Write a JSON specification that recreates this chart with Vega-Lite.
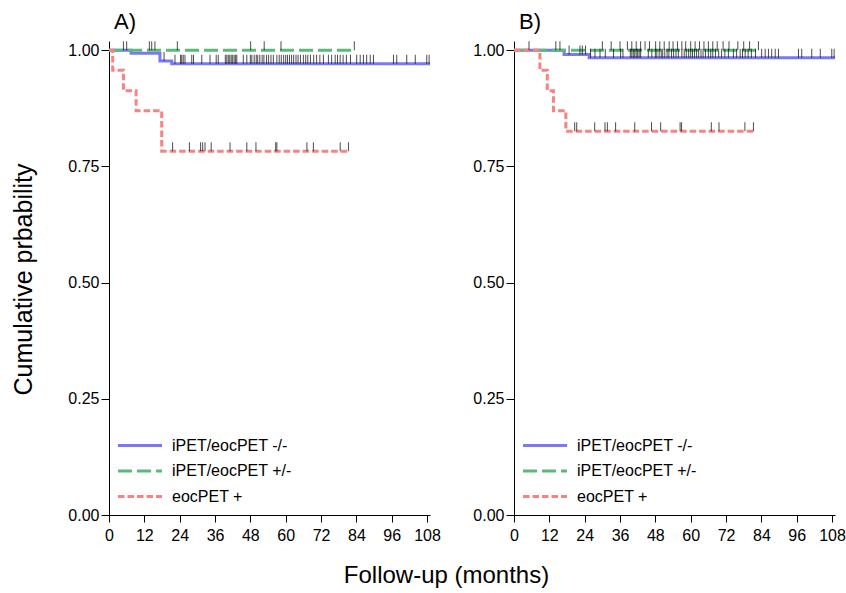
{
 "$schema": "https://vega.github.io/schema/vega-lite/v6.json",
 "padding": {"left": 11, "top": 11, "right": 0, "bottom": 5},
 "background": "white",
 "config": {
  "font": "Liberation Sans",
  "view": {"stroke": null},
  "axis": {"grid": false, "domainColor": "black", "tickColor": "black", "labelColor": "black", "labelFontSize": 16, "titleFontSize": 24, "titleFontWeight": "normal", "titleColor": "black", "domainWidth": 1, "tickWidth": 1, "labelOverlap": false},
  "axisX": {"tickSize": 7, "labelPadding": 5},
  "axisY": {"tickSize": 8, "labelPadding": 2},
  "title": {"fontSize": 22, "fontWeight": "normal", "anchor": "start", "color": "black", "frame": "group"},
  "legend": {"orient": "none", "legendX": 23, "legendY": 396.5, "title": null, "labelFontSize": 16, "labelColor": "black", "symbolType": "M-4,0H4", "symbolSize": 121, "symbolStrokeWidth": 3, "labelOffset": 24, "rowPadding": 9.5}
 },
 "datasets": {
  "km": [
   {"p": "A", "g": "iPET/eocPET -/-", "t": 0, "s": 1},
   {"p": "A", "g": "iPET/eocPET -/-", "t": 7.5, "s": 0.9935},
   {"p": "A", "g": "iPET/eocPET -/-", "t": 17.3, "s": 0.977},
   {"p": "A", "g": "iPET/eocPET -/-", "t": 21.3, "s": 0.971},
   {"p": "A", "g": "iPET/eocPET -/-", "t": 109, "s": 0.971},
   {"p": "A", "g": "iPET/eocPET +/-", "t": 0, "s": 1},
   {"p": "A", "g": "iPET/eocPET +/-", "t": 83.3, "s": 1},
   {"p": "A", "g": "eocPET +", "t": 0, "s": 1},
   {"p": "A", "g": "eocPET +", "t": 1.25, "s": 0.957},
   {"p": "A", "g": "eocPET +", "t": 4.9, "s": 0.913},
   {"p": "A", "g": "eocPET +", "t": 9.2, "s": 0.870},
   {"p": "A", "g": "eocPET +", "t": 17.9, "s": 0.783},
   {"p": "A", "g": "eocPET +", "t": 81.3, "s": 0.783},
   {"p": "B", "g": "iPET/eocPET -/-", "t": 0, "s": 1},
   {"p": "B", "g": "iPET/eocPET -/-", "t": 17, "s": 0.991},
   {"p": "B", "g": "iPET/eocPET -/-", "t": 25.5, "s": 0.984},
   {"p": "B", "g": "iPET/eocPET -/-", "t": 109, "s": 0.984},
   {"p": "B", "g": "iPET/eocPET +/-", "t": 0, "s": 1},
   {"p": "B", "g": "iPET/eocPET +/-", "t": 83, "s": 1},
   {"p": "B", "g": "eocPET +", "t": 0, "s": 1},
   {"p": "B", "g": "eocPET +", "t": 8.8, "s": 0.957},
   {"p": "B", "g": "eocPET +", "t": 11.3, "s": 0.913},
   {"p": "B", "g": "eocPET +", "t": 13.4, "s": 0.870},
   {"p": "B", "g": "eocPET +", "t": 17.6, "s": 0.826},
   {"p": "B", "g": "eocPET +", "t": 81.3, "s": 0.826}
  ],
  "cens": [
   {"p": "A", "t": 4.9, "s": 1}, {"p": "A", "t": 6, "s": 1}, {"p": "A", "t": 13.7, "s": 1}, {"p": "A", "t": 14.5, "s": 1}, {"p": "A", "t": 15.6, "s": 1}, {"p": "A", "t": 23.2, "s": 1}, {"p": "A", "t": 48.1, "s": 1}, {"p": "A", "t": 52.7, "s": 1}, {"p": "A", "t": 58.4, "s": 1}, {"p": "A", "t": 83.3, "s": 1},
   {"p": "A", "t": 18.7, "s": 0.977},
   {"p": "A", "t": 22.4, "s": 0.971}, {"p": "A", "t": 24.3, "s": 0.971}, {"p": "A", "t": 24.7, "s": 0.971}, {"p": "A", "t": 25.2, "s": 0.971}, {"p": "A", "t": 25.8, "s": 0.971}, {"p": "A", "t": 28.1, "s": 0.971}, {"p": "A", "t": 28.7, "s": 0.971}, {"p": "A", "t": 31.5, "s": 0.971}, {"p": "A", "t": 34.3, "s": 0.971}, {"p": "A", "t": 36.4, "s": 0.971}, {"p": "A", "t": 37.1, "s": 0.971}, {"p": "A", "t": 39.5, "s": 0.971}, {"p": "A", "t": 40, "s": 0.971}, {"p": "A", "t": 40.5, "s": 0.971}, {"p": "A", "t": 41, "s": 0.971}, {"p": "A", "t": 41.5, "s": 0.971}, {"p": "A", "t": 42, "s": 0.971}, {"p": "A", "t": 42.5, "s": 0.971}, {"p": "A", "t": 43, "s": 0.971}, {"p": "A", "t": 43.4, "s": 0.971}, {"p": "A", "t": 45.6, "s": 0.971}, {"p": "A", "t": 46.8, "s": 0.971}, {"p": "A", "t": 48, "s": 0.971}, {"p": "A", "t": 48.5, "s": 0.971}, {"p": "A", "t": 49.3, "s": 0.971}, {"p": "A", "t": 50, "s": 0.971}, {"p": "A", "t": 50.5, "s": 0.971}, {"p": "A", "t": 51.2, "s": 0.971}, {"p": "A", "t": 52, "s": 0.971}, {"p": "A", "t": 52.6, "s": 0.971}, {"p": "A", "t": 53.5, "s": 0.971}, {"p": "A", "t": 54.2, "s": 0.971}, {"p": "A", "t": 55, "s": 0.971}, {"p": "A", "t": 55.8, "s": 0.971}, {"p": "A", "t": 57, "s": 0.971}, {"p": "A", "t": 57.8, "s": 0.971}, {"p": "A", "t": 58.5, "s": 0.971}, {"p": "A", "t": 59.3, "s": 0.971}, {"p": "A", "t": 60, "s": 0.971}, {"p": "A", "t": 60.6, "s": 0.971}, {"p": "A", "t": 61.3, "s": 0.971}, {"p": "A", "t": 62, "s": 0.971}, {"p": "A", "t": 62.7, "s": 0.971}, {"p": "A", "t": 63.5, "s": 0.971}, {"p": "A", "t": 64.2, "s": 0.971}, {"p": "A", "t": 65, "s": 0.971}, {"p": "A", "t": 66, "s": 0.971}, {"p": "A", "t": 66.8, "s": 0.971}, {"p": "A", "t": 67.5, "s": 0.971}, {"p": "A", "t": 68.4, "s": 0.971}, {"p": "A", "t": 69.5, "s": 0.971}, {"p": "A", "t": 70.5, "s": 0.971}, {"p": "A", "t": 71.6, "s": 0.971}, {"p": "A", "t": 72.8, "s": 0.971}, {"p": "A", "t": 74.5, "s": 0.971}, {"p": "A", "t": 75.6, "s": 0.971}, {"p": "A", "t": 76.8, "s": 0.971}, {"p": "A", "t": 77.6, "s": 0.971}, {"p": "A", "t": 78.5, "s": 0.971}, {"p": "A", "t": 79.5, "s": 0.971}, {"p": "A", "t": 80.6, "s": 0.971}, {"p": "A", "t": 82, "s": 0.971}, {"p": "A", "t": 84.1, "s": 0.971}, {"p": "A", "t": 85.3, "s": 0.971}, {"p": "A", "t": 86.4, "s": 0.971}, {"p": "A", "t": 87.5, "s": 0.971}, {"p": "A", "t": 88.7, "s": 0.971}, {"p": "A", "t": 89.8, "s": 0.971}, {"p": "A", "t": 96.6, "s": 0.971}, {"p": "A", "t": 97.7, "s": 0.971}, {"p": "A", "t": 101.1, "s": 0.971}, {"p": "A", "t": 104, "s": 0.971}, {"p": "A", "t": 107.9, "s": 0.971}, {"p": "A", "t": 108.7, "s": 0.971},
   {"p": "A", "t": 21.6, "s": 0.783}, {"p": "A", "t": 27.3, "s": 0.783}, {"p": "A", "t": 31.1, "s": 0.783}, {"p": "A", "t": 31.8, "s": 0.783}, {"p": "A", "t": 32.6, "s": 0.783}, {"p": "A", "t": 34.7, "s": 0.783}, {"p": "A", "t": 41.1, "s": 0.783}, {"p": "A", "t": 46.8, "s": 0.783}, {"p": "A", "t": 49.9, "s": 0.783}, {"p": "A", "t": 56.6, "s": 0.783}, {"p": "A", "t": 57, "s": 0.783}, {"p": "A", "t": 67.2, "s": 0.783}, {"p": "A", "t": 69.4, "s": 0.783}, {"p": "A", "t": 78.5, "s": 0.783}, {"p": "A", "t": 81.3, "s": 0.783},
   {"p": "B", "t": 5.1, "s": 1}, {"p": "B", "t": 14.2, "s": 1}, {"p": "B", "t": 15.6, "s": 1}, {"p": "B", "t": 30, "s": 1}, {"p": "B", "t": 33, "s": 1}, {"p": "B", "t": 36, "s": 1}, {"p": "B", "t": 38.5, "s": 1}, {"p": "B", "t": 40, "s": 1}, {"p": "B", "t": 41.5, "s": 1}, {"p": "B", "t": 43, "s": 1}, {"p": "B", "t": 44.5, "s": 1}, {"p": "B", "t": 46, "s": 1}, {"p": "B", "t": 48.1, "s": 1}, {"p": "B", "t": 49.5, "s": 1}, {"p": "B", "t": 51, "s": 1}, {"p": "B", "t": 52.7, "s": 1}, {"p": "B", "t": 54, "s": 1}, {"p": "B", "t": 55.5, "s": 1}, {"p": "B", "t": 57, "s": 1}, {"p": "B", "t": 58.3, "s": 1}, {"p": "B", "t": 60, "s": 1}, {"p": "B", "t": 61.5, "s": 1}, {"p": "B", "t": 63, "s": 1}, {"p": "B", "t": 64.5, "s": 1}, {"p": "B", "t": 66, "s": 1}, {"p": "B", "t": 67.5, "s": 1}, {"p": "B", "t": 69, "s": 1}, {"p": "B", "t": 71, "s": 1}, {"p": "B", "t": 73, "s": 1}, {"p": "B", "t": 76, "s": 1}, {"p": "B", "t": 78, "s": 1}, {"p": "B", "t": 80, "s": 1}, {"p": "B", "t": 83, "s": 1},
   {"p": "B", "t": 18.7, "s": 0.991}, {"p": "B", "t": 22.4, "s": 0.991}, {"p": "B", "t": 23.2, "s": 0.991}, {"p": "B", "t": 24.3, "s": 0.991},
   {"p": "B", "t": 26, "s": 0.984}, {"p": "B", "t": 27.5, "s": 0.984}, {"p": "B", "t": 29.2, "s": 0.984}, {"p": "B", "t": 31, "s": 0.984}, {"p": "B", "t": 33.8, "s": 0.984}, {"p": "B", "t": 36.2, "s": 0.984}, {"p": "B", "t": 37, "s": 0.984}, {"p": "B", "t": 39.5, "s": 0.984}, {"p": "B", "t": 40, "s": 0.984}, {"p": "B", "t": 40.5, "s": 0.984}, {"p": "B", "t": 41, "s": 0.984}, {"p": "B", "t": 41.5, "s": 0.984}, {"p": "B", "t": 42, "s": 0.984}, {"p": "B", "t": 42.5, "s": 0.984}, {"p": "B", "t": 43, "s": 0.984}, {"p": "B", "t": 45.6, "s": 0.984}, {"p": "B", "t": 46.8, "s": 0.984}, {"p": "B", "t": 48, "s": 0.984}, {"p": "B", "t": 48.5, "s": 0.984}, {"p": "B", "t": 49.3, "s": 0.984}, {"p": "B", "t": 50, "s": 0.984}, {"p": "B", "t": 50.5, "s": 0.984}, {"p": "B", "t": 51.2, "s": 0.984}, {"p": "B", "t": 52, "s": 0.984}, {"p": "B", "t": 52.6, "s": 0.984}, {"p": "B", "t": 53.5, "s": 0.984}, {"p": "B", "t": 54.2, "s": 0.984}, {"p": "B", "t": 55, "s": 0.984}, {"p": "B", "t": 55.8, "s": 0.984}, {"p": "B", "t": 57, "s": 0.984}, {"p": "B", "t": 57.8, "s": 0.984}, {"p": "B", "t": 58.5, "s": 0.984}, {"p": "B", "t": 59.3, "s": 0.984}, {"p": "B", "t": 60, "s": 0.984}, {"p": "B", "t": 60.6, "s": 0.984}, {"p": "B", "t": 61.3, "s": 0.984}, {"p": "B", "t": 62, "s": 0.984}, {"p": "B", "t": 62.7, "s": 0.984}, {"p": "B", "t": 63.5, "s": 0.984}, {"p": "B", "t": 64.2, "s": 0.984}, {"p": "B", "t": 65, "s": 0.984}, {"p": "B", "t": 66, "s": 0.984}, {"p": "B", "t": 66.8, "s": 0.984}, {"p": "B", "t": 67.5, "s": 0.984}, {"p": "B", "t": 68.4, "s": 0.984}, {"p": "B", "t": 69.5, "s": 0.984}, {"p": "B", "t": 70.5, "s": 0.984}, {"p": "B", "t": 71.6, "s": 0.984}, {"p": "B", "t": 72.8, "s": 0.984}, {"p": "B", "t": 74.5, "s": 0.984}, {"p": "B", "t": 75.6, "s": 0.984}, {"p": "B", "t": 76.8, "s": 0.984}, {"p": "B", "t": 77.6, "s": 0.984}, {"p": "B", "t": 78.5, "s": 0.984}, {"p": "B", "t": 79.5, "s": 0.984}, {"p": "B", "t": 80.6, "s": 0.984}, {"p": "B", "t": 82, "s": 0.984}, {"p": "B", "t": 84.1, "s": 0.984}, {"p": "B", "t": 85.3, "s": 0.984}, {"p": "B", "t": 86.4, "s": 0.984}, {"p": "B", "t": 87.5, "s": 0.984}, {"p": "B", "t": 88.7, "s": 0.984}, {"p": "B", "t": 89.8, "s": 0.984}, {"p": "B", "t": 96.6, "s": 0.984}, {"p": "B", "t": 97.7, "s": 0.984}, {"p": "B", "t": 101.1, "s": 0.984}, {"p": "B", "t": 104, "s": 0.984}, {"p": "B", "t": 107.9, "s": 0.984}, {"p": "B", "t": 108.7, "s": 0.984},
   {"p": "B", "t": 20.6, "s": 0.826}, {"p": "B", "t": 21.3, "s": 0.826}, {"p": "B", "t": 27.4, "s": 0.826}, {"p": "B", "t": 30.9, "s": 0.826}, {"p": "B", "t": 31.7, "s": 0.826}, {"p": "B", "t": 34.5, "s": 0.826}, {"p": "B", "t": 41, "s": 0.826}, {"p": "B", "t": 46.7, "s": 0.826}, {"p": "B", "t": 49.8, "s": 0.826}, {"p": "B", "t": 56.4, "s": 0.826}, {"p": "B", "t": 56.9, "s": 0.826}, {"p": "B", "t": 67, "s": 0.826}, {"p": "B", "t": 69.6, "s": 0.826}, {"p": "B", "t": 78.4, "s": 0.826}, {"p": "B", "t": 81.3, "s": 0.826}
  ]
 },
 "spacing": 84,
 "bounds": "flush",
 "resolve": {"scale": {"color": "independent", "strokeDash": "independent"}, "legend": {"color": "independent", "strokeDash": "independent"}},
 "hconcat": [
  {
   "width": 321, "height": 474,
   "title": {"text": "A)", "offset": 7, "dx": 5},
   "layer": [
    {
     "data": {"name": "km"},
     "transform": [{"filter": "datum.p == 'A'"}],
     "mark": {"type": "line", "interpolate": "step-after", "strokeWidth": 3, "strokeCap": "butt"},
     "encoding": {
      "x": {"field": "t", "type": "quantitative", "scale": {"domain": [0, 109], "nice": false}, "axis": {"values": [0, 12, 24, 36, 48, 60, 72, 84, 96, 108], "labelOverlap": false, "labelBound": false, "labelFlush": false, "title": "Follow-up (months)", "titleX": 337, "titleY": 60, "titleBaseline": "middle", "titleAlign": "center", "titleAnchor": null}},
      "y": {"field": "s", "type": "quantitative", "scale": {"domain": [0, 1.02], "nice": false}, "axis": {"values": [0, 0.25, 0.5, 0.75, 1], "format": ".2f", "title": "Cumulative prbability", "titleX": -86, "titleY": 238, "titleFontSize": 25, "titleBaseline": "middle", "titleAlign": "center", "titleAnchor": null}},
      "color": {"field": "g", "type": "nominal", "sort": null, "scale": {"domain": ["iPET/eocPET -/-", "iPET/eocPET +/-", "eocPET +"], "range": ["#7878F8", "#5BBA79", "#FA8282"]}},
      "strokeDash": {"field": "g", "type": "nominal", "sort": null, "scale": {"domain": ["iPET/eocPET -/-", "iPET/eocPET +/-", "eocPET +"], "range": [[1, 0], [14, 5], [6.5, 3]]}}
     }
    },
    {
     "data": {"name": "cens"},
     "transform": [{"filter": "datum.p == 'A'"}],
     "mark": {"type": "tick", "orient": "vertical", "size": 9, "thickness": 1, "color": "black", "yOffset": -4.5},
     "encoding": {
      "x": {"field": "t", "type": "quantitative", "axis": {"values": [0, 12, 24, 36, 48, 60, 72, 84, 96, 108], "labelOverlap": false, "labelBound": false, "labelFlush": false, "title": "Follow-up (months)", "titleX": 337, "titleY": 60, "titleBaseline": "middle", "titleAlign": "center", "titleAnchor": null}},
      "y": {"field": "s", "type": "quantitative", "axis": {"values": [0, 0.25, 0.5, 0.75, 1], "format": ".2f", "title": "Cumulative prbability", "titleX": -86, "titleY": 238, "titleFontSize": 25, "titleBaseline": "middle", "titleAlign": "center", "titleAnchor": null}}
     }
    }
   ]
  },
  {
   "width": 321, "height": 474,
   "title": {"text": "B)", "offset": 7, "dx": 5},
   "layer": [
    {
     "data": {"name": "km"},
     "transform": [{"filter": "datum.p == 'B'"}],
     "mark": {"type": "line", "interpolate": "step-after", "strokeWidth": 3, "strokeCap": "butt"},
     "encoding": {
      "x": {"field": "t", "type": "quantitative", "scale": {"domain": [0, 109], "nice": false}, "axis": {"values": [0, 12, 24, 36, 48, 60, 72, 84, 96, 108], "labelOverlap": false, "labelBound": false, "labelFlush": false, "title": null}},
      "y": {"field": "s", "type": "quantitative", "scale": {"domain": [0, 1.02], "nice": false}, "axis": {"values": [0, 0.25, 0.5, 0.75, 1], "format": ".2f", "title": null}},
      "color": {"field": "g", "type": "nominal", "sort": null, "scale": {"domain": ["iPET/eocPET -/-", "iPET/eocPET +/-", "eocPET +"], "range": ["#7878F8", "#5BBA79", "#FA8282"]}},
      "strokeDash": {"field": "g", "type": "nominal", "sort": null, "scale": {"domain": ["iPET/eocPET -/-", "iPET/eocPET +/-", "eocPET +"], "range": [[1, 0], [14, 5], [6.5, 3]]}}
     }
    },
    {
     "data": {"name": "cens"},
     "transform": [{"filter": "datum.p == 'B'"}],
     "mark": {"type": "tick", "orient": "vertical", "size": 9, "thickness": 1, "color": "black", "yOffset": -4.5},
     "encoding": {
      "x": {"field": "t", "type": "quantitative", "axis": {"values": [0, 12, 24, 36, 48, 60, 72, 84, 96, 108], "labelOverlap": false, "labelBound": false, "labelFlush": false, "title": null}},
      "y": {"field": "s", "type": "quantitative", "axis": {"values": [0, 0.25, 0.5, 0.75, 1], "format": ".2f", "title": null}}
     }
    }
   ]
  }
 ]
}
